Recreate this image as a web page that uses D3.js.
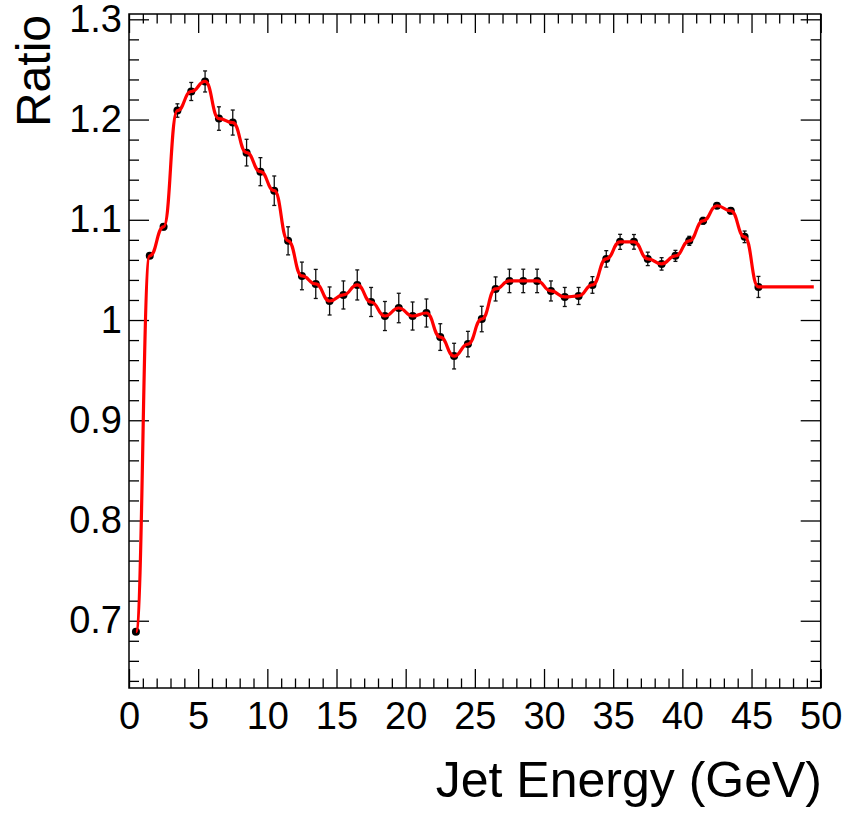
<!DOCTYPE html>
<html>
<head>
<meta charset="utf-8">
<script src="https://cdn.jsdelivr.net/npm/d3@7"></script>
<style>
  html, body { margin: 0; padding: 0; background: #fff; }
  svg { display: block; font-family: "Liberation Sans", Arial, Helvetica, sans-serif; }
</style>
</head>
<body>
<svg id="chart" width="848" height="816"></svg>
<script>
// Bin centres (GeV) of the measured ratio
const binCenters = [0.5, 1.5, 2.5, 3.5, 4.5, 5.5, 6.5, 7.5, 8.5, 9.5,
  10.5, 11.5, 12.5, 13.5, 14.5, 15.5, 16.5, 17.5, 18.5, 19.5,
  20.5, 21.5, 22.5, 23.5, 24.5, 25.5, 26.5, 27.5, 28.5, 29.5,
  30.5, 31.5, 32.5, 33.5, 34.5, 35.5, 36.5, 37.5, 38.5, 39.5,
  40.5, 41.5, 42.5, 43.5, 44.5, 45.5];

// Ratio per bin
const ratio = [0.689, 1.064, 1.093, 1.209, 1.228, 1.238, 1.201, 1.197, 1.167, 1.148,
  1.129, 1.079, 1.044, 1.036, 1.019, 1.025, 1.035, 1.018, 1.004, 1.012,
  1.004, 1.007, 0.983, 0.964, 0.976, 1.001, 1.031, 1.039, 1.039, 1.039,
  1.029, 1.023, 1.024, 1.035, 1.061, 1.078, 1.078, 1.061, 1.056, 1.064,
  1.079, 1.099, 1.114, 1.109, 1.083, 1.033];

// Statistical uncertainty per bin
const ratioErr = [0.002, 0.002, 0.003, 0.0067, 0.009, 0.0105, 0.0117, 0.0125, 0.0133, 0.014,
  0.0147, 0.014, 0.0138, 0.0145, 0.014, 0.014, 0.015, 0.0145, 0.0145, 0.0147,
  0.014, 0.014, 0.0133, 0.0128, 0.0127, 0.0127, 0.012, 0.0117, 0.0117, 0.0117,
  0.010, 0.0095, 0.0085, 0.0083, 0.0082, 0.0075, 0.0073, 0.0067, 0.0062, 0.0055,
  0.0045, 0.0033, 0.0025, 0.003, 0.0058, 0.0105];

// Smoothed curve continues flat over the empty bins at the top of the range
const tailCenters = [46.5, 47.5, 48.5, 49.5];
const tailRatio = [1.033, 1.033, 1.033, 1.033];

// Axis ticks
const xMajorTicks = [0, 5, 10, 15, 20, 25, 30, 35, 40, 45, 50];
const yMajorTicks = [0.7, 0.8, 0.9, 1.0, 1.1, 1.2, 1.3];
const yTickLabels = ["0.7", "0.8", "0.9", "1", "1.1", "1.2", "1.3"];

const xTitle = "Jet Energy (GeV)";
const yTitle = "Ratio";

const svg = d3.select("#chart");
const frame = { left: 129, right: 820.7, top: 14, bottom: 688 };

const x = d3.scaleLinear().domain([0, 50]).range([frame.left, frame.right]);
const y = d3.scaleLinear().domain([0.6329, 1.3053]).range([frame.bottom, frame.top]);

const xMinor = d3.range(0, 51, 1).filter(v => v % 5 !== 0);
const yMinor = d3.range(64, 131, 2).map(v => v / 100).filter(v => Math.round(v * 100) % 10 !== 0);

const tickFont = 38;

function styleAxis(g) {
  g.select(".domain").remove();
  g.selectAll(".tick line").attr("stroke", "#000").attr("stroke-width", 1.3);
}

// Bottom axis: major with labels, minor without
svg.append("g")
  .attr("transform", `translate(0,${frame.bottom})`)
  .call(d3.axisBottom(x).tickValues(xMajorTicks).tickSize(-19).tickPadding(14).tickFormat(d3.format("d")))
  .call(styleAxis)
  .call(g => g.selectAll("text").attr("font-size", tickFont).attr("fill", "#000")
    .attr("font-family", "'Liberation Sans', Arial, Helvetica, sans-serif"));
svg.append("g")
  .attr("transform", `translate(0,${frame.bottom})`)
  .call(d3.axisBottom(x).tickValues(xMinor).tickSize(-9.5).tickFormat(""))
  .call(styleAxis);

// Top axis ticks
svg.append("g")
  .attr("transform", `translate(0,${frame.top})`)
  .call(d3.axisTop(x).tickValues(xMajorTicks).tickSize(-19).tickFormat(""))
  .call(styleAxis);
svg.append("g")
  .attr("transform", `translate(0,${frame.top})`)
  .call(d3.axisTop(x).tickValues(xMinor).tickSize(-9.5).tickFormat(""))
  .call(styleAxis);

// Left axis
svg.append("g")
  .attr("transform", `translate(${frame.left},0)`)
  .call(d3.axisLeft(y).tickValues(yMajorTicks).tickSize(-20).tickPadding(7)
    .tickFormat((d, i) => yTickLabels[i]))
  .call(styleAxis)
  .call(g => g.selectAll("text").attr("font-size", tickFont).attr("fill", "#000")
    .attr("font-family", "'Liberation Sans', Arial, Helvetica, sans-serif"));
svg.append("g")
  .attr("transform", `translate(${frame.left},0)`)
  .call(d3.axisLeft(y).tickValues(yMinor).tickSize(-10).tickFormat(""))
  .call(styleAxis);

// Right axis ticks
svg.append("g")
  .attr("transform", `translate(${frame.right},0)`)
  .call(d3.axisRight(y).tickValues(yMajorTicks).tickSize(-20).tickFormat(""))
  .call(styleAxis);
svg.append("g")
  .attr("transform", `translate(${frame.right},0)`)
  .call(d3.axisRight(y).tickValues(yMinor).tickSize(-10).tickFormat(""))
  .call(styleAxis);

// Frame
svg.append("rect")
  .attr("x", frame.left).attr("y", frame.top)
  .attr("width", frame.right - frame.left).attr("height", frame.bottom - frame.top)
  .attr("fill", "none").attr("stroke", "#000").attr("stroke-width", 1.5);

const points = binCenters.map((c, i) => ({ x: c, y: ratio[i], e: ratioErr[i] }));

// Error bars with small end caps
const eb = svg.append("g").attr("stroke", "#111").attr("stroke-width", 1.3);
points.forEach(p => {
  const px = x(p.x);
  eb.append("line").attr("x1", px).attr("x2", px).attr("y1", y(p.y - p.e)).attr("y2", y(p.y + p.e));
  [p.y - p.e, p.y + p.e].forEach(v => {
    eb.append("line").attr("x1", px - 2).attr("x2", px + 2).attr("y1", y(v)).attr("y2", y(v));
  });
});

// Markers
svg.append("g").selectAll("circle")
  .data(points)
  .join("circle")
  .attr("cx", d => x(d.x))
  .attr("cy", d => y(d.y))
  .attr("r", 4)
  .attr("fill", "#000");

// Smooth red curve through the bin contents
const curvePts = points.map(p => [p.x, p.y])
  .concat(tailCenters.map((c, i) => [c, tailRatio[i]]));
svg.append("path")
  .datum(curvePts)
  .attr("fill", "none")
  .attr("stroke", "#ff0000")
  .attr("stroke-width", 3.2)
  .attr("stroke-linejoin", "round")
  .attr("d", d3.line().x(d => x(d[0])).y(d => y(d[1])).curve(d3.curveBumpX));

// Axis titles
svg.append("text")
  .attr("x", 822).attr("y", 797)
  .attr("text-anchor", "end")
  .attr("font-size", 50)
  .attr("fill", "#000")
  .text(xTitle);

svg.append("text")
  .attr("transform", "translate(50,15) rotate(-90)")
  .attr("text-anchor", "end")
  .attr("font-size", 48)
  .attr("fill", "#000")
  .text(yTitle);
</script>
</body>
</html>
